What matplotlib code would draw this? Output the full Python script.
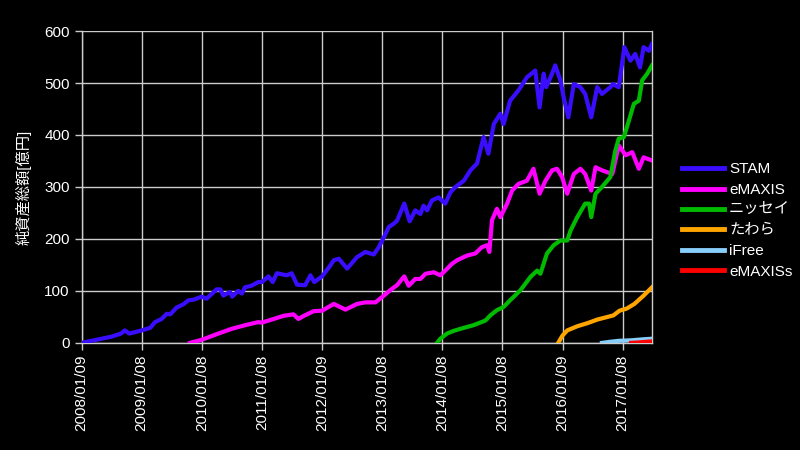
import matplotlib
matplotlib.use("Agg")
import pandas as pd
import matplotlib.pyplot as plt

# 純資産総額 [億円], values
stam_dates = [
    "2008-01-09", "2008-07-08", "2008-09-05", "2008-09-27", "2008-10-25", "2009-01-08",
    "2009-03-01", "2009-03-30", "2009-05-09", "2009-06-09", "2009-07-01", "2009-08-08",
    "2009-09-17", "2009-10-19", "2009-11-18", "2010-01-08", "2010-02-06", "2010-04-08",
    "2010-05-01", "2010-05-19", "2010-06-28", "2010-07-12", "2010-08-17", "2010-09-09",
    "2010-09-28", "2010-11-06", "2010-12-17", "2011-01-08", "2011-02-17", "2011-03-15",
    "2011-04-09", "2011-06-08", "2011-07-08", "2011-08-10", "2011-09-28", "2011-10-30",
    "2011-11-22", "2012-01-09", "2012-02-28", "2012-03-20", "2012-04-19", "2012-06-09",
    "2012-08-08", "2012-09-28", "2012-11-18", "2012-12-18", "2013-01-18", "2013-02-17",
    "2013-03-18", "2013-04-08", "2013-05-22", "2013-06-24", "2013-07-28", "2013-08-28",
    "2013-09-16", "2013-10-08", "2013-11-06", "2013-12-16", "2014-01-26", "2014-02-27",
    "2014-03-29", "2014-05-19", "2014-06-28", "2014-08-07", "2014-09-16", "2014-10-15",
    "2014-11-17", "2014-12-27", "2015-01-15", "2015-02-24", "2015-04-16", "2015-06-06",
    "2015-07-27", "2015-08-22", "2015-09-16", "2015-10-01", "2015-11-06", "2015-11-25",
    "2015-12-27", "2016-01-15", "2016-02-13", "2016-03-17", "2016-04-26", "2016-05-25",
    "2016-07-01", "2016-08-06", "2016-09-04", "2016-10-25", "2016-11-09", "2016-12-15",
    "2017-01-18", "2017-02-24", "2017-03-25", "2017-04-23", "2017-05-15", "2017-06-17",
    "2017-07-05",
]
stam_values = [
    0, 12, 18, 24, 18, 24,
    29, 40, 46, 56, 55, 68,
    74, 82, 83, 89, 85, 103,
    103, 91, 98, 89, 100, 95,
    107, 110, 117, 117, 128, 117,
    134, 130, 134, 112, 111, 130,
    117, 128, 149, 159, 162, 143,
    165, 175, 170, 184, 203, 223,
    229, 235, 268, 234, 255, 248,
    264, 255, 274, 280, 268, 290,
    300, 312, 332, 345, 396, 364,
    421, 441, 421, 466, 486, 511,
    524, 453, 518, 492, 518, 534,
    505, 473, 434, 498, 492, 479,
    434, 492, 479, 492, 498, 492,
    569, 543, 556, 530, 569, 562,
    575,
]

emaxis_dates = [
    "2009-10-28", "2010-01-08", "2010-04-19", "2010-07-08", "2010-09-28", "2010-12-17",
    "2011-01-08", "2011-03-20", "2011-05-19", "2011-07-19", "2011-08-18", "2011-09-20",
    "2011-11-18", "2012-01-09", "2012-03-20", "2012-05-30", "2012-08-08", "2012-09-28",
    "2012-11-28", "2013-01-18", "2013-02-28", "2013-04-08", "2013-05-22", "2013-06-18",
    "2013-07-28", "2013-08-28", "2013-09-28", "2013-11-17", "2013-12-27", "2014-01-26",
    "2014-03-07", "2014-04-08", "2014-06-07", "2014-07-27", "2014-09-05", "2014-10-08",
    "2014-10-21", "2014-11-06", "2014-12-06", "2014-12-27", "2015-02-06", "2015-03-08",
    "2015-04-16", "2015-06-06", "2015-07-16", "2015-08-22", "2015-09-27", "2015-11-06",
    "2015-12-06", "2016-01-06", "2016-02-06", "2016-03-17", "2016-04-26", "2016-05-25",
    "2016-07-01", "2016-07-27", "2016-09-04", "2016-11-06", "2016-12-15", "2017-01-26",
    "2017-03-07", "2017-04-16", "2017-05-15", "2017-07-05",
]
emaxis_values = [
    0, 6, 18, 27, 34, 40,
    39, 46, 52, 55, 46, 52,
    61, 62, 75, 64, 75, 78,
    78, 91, 102, 111, 128, 110,
    123, 123, 133, 136, 130, 139,
    152, 159, 168, 172, 184, 188,
    175, 236, 258, 242, 268, 293,
    306, 312, 335, 287, 312, 332,
    335, 319, 287, 325, 335, 325,
    293, 338, 332, 325, 380, 361,
    367, 335, 357, 351,
]

nissay_dates = [
    "2013-12-07", "2013-12-27", "2014-02-06", "2014-03-17", "2014-05-19", "2014-07-16",
    "2014-09-27", "2014-10-27", "2014-12-06", "2015-01-15", "2015-02-24", "2015-04-27",
    "2015-06-28", "2015-08-07", "2015-08-27", "2015-10-06", "2015-11-16", "2015-12-27",
    "2016-02-06", "2016-02-26", "2016-04-07", "2016-05-25", "2016-06-18", "2016-07-01",
    "2016-07-27", "2016-09-04", "2016-10-25", "2016-11-24", "2016-12-15", "2017-01-15",
    "2017-02-15", "2017-03-17", "2017-04-16", "2017-05-06", "2017-06-06", "2017-07-05",
]
nissay_values = [
    0, 8, 18, 23, 29, 34,
    43, 53, 63, 69, 82, 101,
    127, 139, 133, 172, 188, 197,
    197, 216, 242, 268, 268, 242,
    287, 300, 319, 370, 393, 396,
    428, 460, 466, 505, 518, 534,
]

tawara_dates = [
    "2015-12-15", "2016-01-08", "2016-02-06", "2016-04-07", "2016-06-08", "2016-08-08",
    "2016-10-08", "2016-11-13", "2016-12-20", "2017-02-01", "2017-03-20", "2017-05-15",
    "2017-07-05",
]
tawara_values = [1, 14, 24, 32, 38, 45, 50, 53, 62, 66, 75, 91, 107]

ifree_dates = ["2016-09-04", "2016-10-20", "2016-12-15", "2017-03-01", "2017-05-15", "2017-07-05"]
ifree_values = [0, 2, 4, 5, 7, 8]

emaxis_s_dates = ["2017-02-28", "2017-04-20", "2017-07-05"]
emaxis_s_values = [0, 1, 3]

series_names = ["STAM", "eMAXIS", "ニッセイ", "たわら", "iFree", "eMAXISs"]
series_colors = ["#3a0dff", "#ff00ff", "#00bb00", "#ffa500", "#87cefa", "#ff0000"]

tick_dates = [
    "2008-01-09", "2009-01-08", "2010-01-08", "2011-01-08", "2012-01-09",
    "2013-01-08", "2014-01-08", "2015-01-08", "2016-01-09", "2017-01-08",
]
y_ticks = [0, 100, 200, 300, 400, 500, 600]

plt.rcParams["font.family"] = ["Liberation Sans", "Noto Sans CJK JP", "DejaVu Sans"]

fig = plt.figure(figsize=(8, 4.5), dpi=100, facecolor="black")
ax = fig.add_axes([0.102, 0.238, 0.713, 0.693], facecolor="black")

all_series = [
    (stam_dates, stam_values),
    (emaxis_dates, emaxis_values),
    (nissay_dates, nissay_values),
    (tawara_dates, tawara_values),
    (ifree_dates, ifree_values),
    (emaxis_s_dates, emaxis_s_values),
]
for (d, v), name, col in zip(all_series, series_names, series_colors):
    ax.plot(pd.to_datetime(d), v, color=col, lw=3.0, label=name,
            solid_joinstyle="round", zorder=3)

ax.set_xlim(pd.Timestamp("2008-01-09"), pd.Timestamp("2017-07-05"))
ax.set_ylim(0, 600)
ax.set_yticks(y_ticks)
ticks = pd.to_datetime(tick_dates)
ax.set_xticks(ticks)
ax.set_xticklabels([t.strftime("%Y/%m/%d") for t in ticks], rotation=90)

ax.grid(True, color="#cccccc", lw=1, zorder=1)
for s in ax.spines.values():
    s.set_color("#cccccc")
    s.set_linewidth(1)
ax.spines["top"].set_visible(False)
ax.tick_params(colors="#cccccc", length=5, width=1, labelcolor="white", labelsize=11)
ax.set_ylabel("純資産総額[億円]", color="white", fontsize=11, labelpad=9)

leg = fig.legend(loc="center left", bbox_to_anchor=(0.852, 0.51), frameon=False,
                 fontsize=11, handlelength=2.8, handletextpad=0.3,
                 labelspacing=0.42, borderpad=0, borderaxespad=0)
for t in leg.get_texts():
    t.set_color("white")
for h in leg.get_lines():
    h.set_linewidth(3.5)

fig.savefig("out.png", dpi=100, facecolor="black")
